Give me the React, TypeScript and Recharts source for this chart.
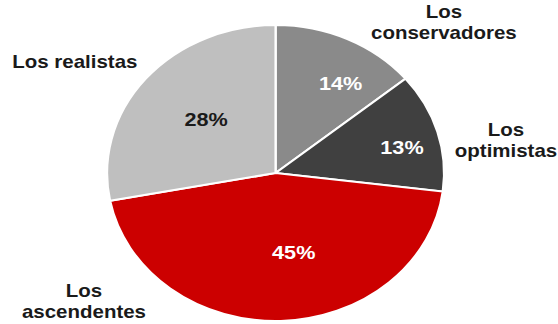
import { PieChart, Pie, Cell } from 'recharts';

const segments = ['Los conservadores', 'Los optimistas', 'Los ascendentes', 'Los realistas'];
const shares = [14, 13, 45, 28];
const nameLines = [['Los', 'conservadores'], ['Los', 'optimistas'], ['Los', 'ascendentes'], ['Los realistas']];

const colors = ['#8a8a8a', '#404040', '#cc0000', '#bfbfbf'];
const valueColors = ['#ffffff', '#ffffff', '#ffffff', '#1a1a1a'];

// label placement: [angle in degrees, distance as a fraction of the radius]
const valuePlacement = [[57.6, 0.72], [13.1, 0.77], [-78.7, 0.55], [138.6, 0.55]];
const namePlacement = [[45.5, 1.425], [9.2, 1.385], [-142.7, 1.429], [147.7, 1.409]];

const data = segments.map((name, i) => ({ name, value: shares[i] }));

// the source image is stretched horizontally
const W = 490;
const H = 324;
const SX = 558 / W;
const RAD = Math.PI / 180;
const FONT = '"Liberation Sans", Arial, sans-serif';

const polar = (cx: number, cy: number, r: number, angle: number, k: number) => ({
  x: cx + r * k * Math.cos(-angle * RAD),
  y: cy + r * k * Math.sin(-angle * RAD),
});

const renderLabel = (props: any) => {
  const { cx, cy, outerRadius, index, value } = props;
  const v = polar(cx, cy, outerRadius, valuePlacement[index][0], valuePlacement[index][1]);
  const n = polar(cx, cy, outerRadius, namePlacement[index][0], namePlacement[index][1]);
  const lines = nameLines[index];
  const lh = 21;
  return (
    <g>
      <text x={v.x} y={v.y} dy="0.35em" textAnchor="middle" fill={valueColors[index]}
        fontFamily={FONT} fontWeight="bold" fontSize={19}>
        {`${value}%`}
      </text>
      <text textAnchor="middle" fill="#1a1a1a" fontFamily={FONT} fontWeight="bold" fontSize={18}>
        {lines.map((line, i) => (
          <tspan key={line} x={n.x} y={n.y - ((lines.length - 1) * lh) / 2 + i * lh} dy="0.35em">
            {line}
          </tspan>
        ))}
      </text>
    </g>
  );
};

export default function App() {
  return (
    <div style={{ width: 558, height: H, overflow: 'hidden', background: '#fff' }}>
      <style>{'body{margin:0}'}</style>
      <div style={{ width: W, height: H, transform: `scaleX(${SX})`, transformOrigin: '0 0' }}>
        <PieChart width={W} height={H} margin={{ top: 0, right: 0, bottom: 0, left: 0 }}>
          <Pie
            data={data}
            dataKey="value"
            nameKey="name"
            cx={242}
            cy={173}
            outerRadius={148}
            startAngle={90}
            endAngle={-270}
            stroke="#ffffff"
            strokeWidth={2}
            label={renderLabel}
            labelLine={false}
            isAnimationActive={false}
          >
            {data.map((d, i) => (
              <Cell key={d.name} fill={colors[i]} />
            ))}
          </Pie>
        </PieChart>
      </div>
    </div>
  );
}
